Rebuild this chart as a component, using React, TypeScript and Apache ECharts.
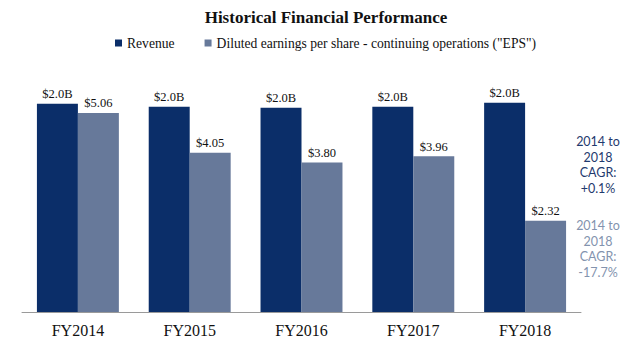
import React, { useEffect, useRef } from "react";
import * as echarts from "echarts";

const categories = ["FY2014", "FY2015", "FY2016", "FY2017", "FY2018"];
const revenue = [2.03, 2.0, 1.99, 2.0, 2.04];
const eps = [5.06, 4.05, 3.8, 3.96, 2.32];
const seriesNames = ["Revenue", 'Diluted earnings per share - continuing operations ("EPS")'];
const titleText = "Historical Financial Performance";
const revenueCagrLines = ["2014 to", "2018", "CAGR:", "+0.1%"];
const epsCagrLines = ["2014 to", "2018", "CAGR:", "-17.7%"];

const NAVY = "#0b2e69";
const SLATE = "#67799a";
const SERIF = "Liberation Serif, serif";
const SANS = "Lato, sans-serif";

export default function App() {
  const ref = useRef<HTMLDivElement>(null);
  useEffect(() => {
    if (!ref.current) return;
    const chart = echarts.init(ref.current, undefined, { renderer: "svg" });
    const labelStyle = {
      show: true,
      position: "top",
      distance: 3,
      fontFamily: SERIF,
      fontSize: 12.5,
      color: "#111",
    };
    chart.setOption({
      animation: false,
      backgroundColor: "#ffffff",
      textStyle: { fontFamily: SERIF },
      title: {
        text: titleText,
        left: 321,
        textAlign: "center",
        top: 4,
        textStyle: { fontFamily: SERIF, fontWeight: "bold", fontSize: 17, color: "#111" },
      },
      legend: {
        left: 110,
        top: 31,
        icon: "rect",
        itemWidth: 7,
        itemHeight: 7,
        itemGap: 30,
        textStyle: { fontFamily: SERIF, fontSize: 13.6, color: "#111" },
        data: seriesNames,
      },
      grid: { left: 22, right: 62, top: 76, bottom: 34, containLabel: false },
      xAxis: {
        type: "category",
        data: categories,
        axisLine: { lineStyle: { color: "#9a9a9a", width: 1 } },
        axisTick: { length: 4, lineStyle: { color: "#9a9a9a" } },
        axisLabel: { fontFamily: SERIF, fontSize: 16, color: "#111", margin: 10 },
      },
      yAxis: [
        { type: "value", min: 0, max: 2.3, show: false, splitLine: { show: false } },
        { type: "value", min: 0, max: 6, show: false, splitLine: { show: false } },
      ],
      series: [
        {
          name: seriesNames[0],
          type: "bar",
          yAxisIndex: 0,
          data: revenue,
          barGap: "0%",
          barCategoryGap: "26.7%",
          itemStyle: { color: NAVY },
          label: { ...labelStyle, formatter: (p: any) => "$" + Number(p.value).toFixed(1) + "B" },
        },
        {
          name: seriesNames[1],
          type: "bar",
          yAxisIndex: 1,
          data: eps,
          barGap: "0%",
          barCategoryGap: "26.7%",
          itemStyle: { color: SLATE },
          label: { ...labelStyle, formatter: (p: any) => "$" + Number(p.value).toFixed(2) },
        },
      ],
      graphic: [
        {
          type: "text",
          x: 598,
          y: 134,
          style: {
            text: revenueCagrLines.join("\n"),
            textAlign: "center",
            textVerticalAlign: "top",
            fontFamily: SANS,
            fontSize: 12.5,
            lineHeight: 15.5,
            fill: "#1f3a6e",
          },
        },
        {
          type: "text",
          x: 598,
          y: 218,
          style: {
            text: epsCagrLines.join("\n"),
            textAlign: "center",
            textVerticalAlign: "top",
            fontFamily: SANS,
            fontSize: 12.5,
            lineHeight: 15.5,
            fill: "#8393ae",
          },
        },
      ],
    });
    return () => chart.dispose();
  }, []);
  return (
    <div
      ref={ref}
      style={{ position: "fixed", left: 0, top: 0, width: 643, height: 346, background: "#fff" }}
    />
  );
}
